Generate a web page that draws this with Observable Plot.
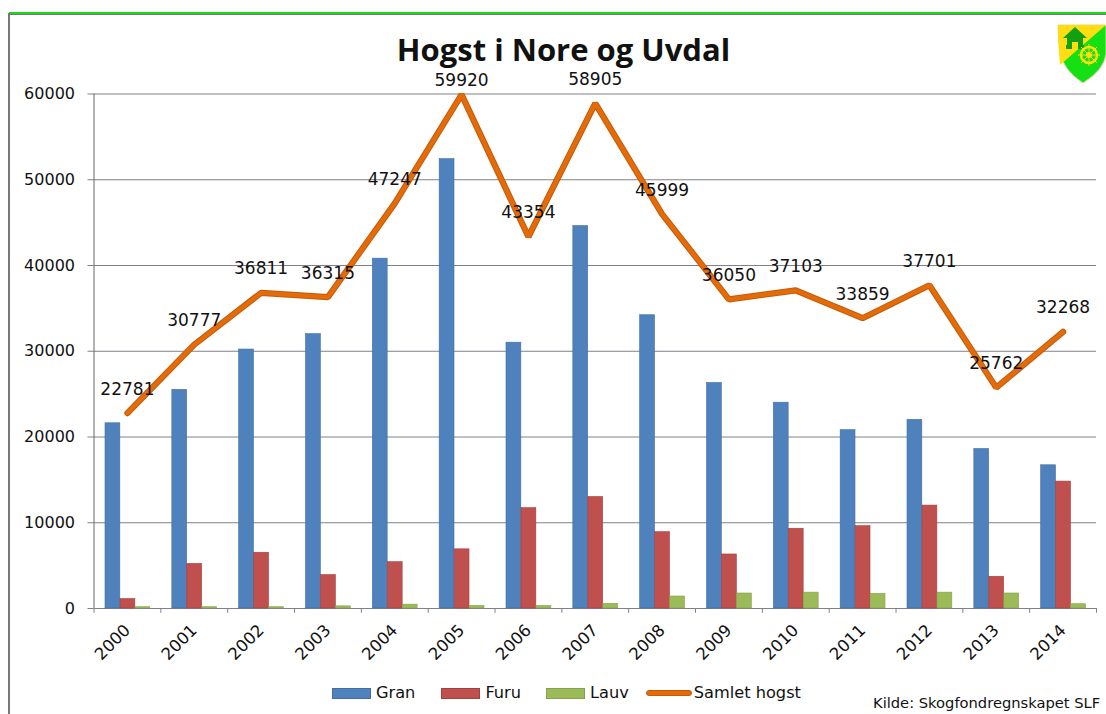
<!DOCTYPE html>
<html lang="no"><head><meta charset="utf-8">
<script src="https://cdn.jsdelivr.net/npm/d3@7"></script>
<script src="https://cdn.jsdelivr.net/npm/@observablehq/plot@0.6"></script>
<style>
html,body{margin:0;padding:0;background:#fff;overflow:hidden}
#page{position:relative;width:1106px;height:714px;font-family:"DejaVu Sans",sans-serif;color:#111}
#page svg.chart{position:absolute;left:0;top:0}
#greenline{position:absolute;left:9px;right:0;top:12px;height:1.5px;background:#12e012}
#greyline{position:absolute;left:9px;right:0;top:13.5px;height:1.5px;background:#77777c}
#leftline{position:absolute;left:8px;top:13px;bottom:0;width:2px;background:#77777c}
h1{position:absolute;left:0;top:28px;width:1127px;margin:0;text-align:center;font:bold 31px/42px "Open Sans",sans-serif;color:#111}
#legend{position:absolute;left:332px;top:683px;display:flex;align-items:center;font-size:16.2px;line-height:20px;white-space:nowrap}
#legend span{display:inline-flex;align-items:center}
#legend i{display:inline-block;width:39px;height:11px;margin-right:5px}
#source{position:absolute;left:873px;top:694px;font-size:14.7px;line-height:18px;white-space:nowrap}
#shield{position:absolute;left:1057px;top:24px}
</style></head><body>
<div id="page">
<div id="greenline"></div><div id="greyline"></div><div id="leftline"></div>
<h1>Hogst i Nore og Uvdal</h1>
<svg id="shield" width="49" height="60" viewBox="0 0 49 60">
<path d="M1 1H49V30Q47 46 26 59Q6 46 3 28Q1 14 1 1Z" fill="#14e014" stroke="#d8d8a0"/>
<path d="M1 1H49L3 41Q1 20 1 1Z" fill="#ffdd10"/>
<path d="M6 14L18 3L30 14H26V21H27V25H9V21H10V14Z" fill="#10a010"/><rect x="15" y="18" width="6" height="7" fill="#ffdd10"/>
<circle cx="32" cy="31" r="8" fill="none" stroke="#ffdd10" stroke-width="2.5"/><circle cx="32" cy="31" r="3" fill="#ffdd10"/>
<path d="M32 20V42M21 31H43M24 23L40 39M40 23L24 39" stroke="#ffdd10" stroke-width="1"/>
</svg>
<div id="legend"></div>
<div id="source">Kilde: Skogfondregnskapet SLF</div>
</div>
<script>
const years = [2000,2001,2002,2003,2004,2005,2006,2007,2008,2009,2010,2011,2012,2013,2014];
const gran  = [21600,25500,30200,32000,40800,52400,31000,44600,34200,26300,24000,20800,22000,18600,16700];
const furu  = [1100,5200,6500,3900,5400,6900,11700,13000,8900,6300,9300,9600,12000,3700,14800];
const lauv  = [150,150,150,250,450,300,300,550,1400,1750,1850,1700,1850,1750,500];
const samlet= [22781,30777,36811,36315,47247,59920,43354,58905,45999,36050,37103,33859,37701,25762,32268];
const yTicks = [0,10000,20000,30000,40000,50000,60000];
const names = ["Gran","Furu","Lauv","Samlet hogst"];
const colors = ["#4f81bd","#c0504d","#9bbb59","#e36c09"];
const edges = ["#41709f","#a33f3c","#84a24a","#c65a0b"];

const idx = years.map((_, i) => i);
const bar = (vals, c, l, r) => Plot.barY(idx, {
  x: i => years[i], y: i => vals[i], fill: colors[c], stroke: edges[c], strokeWidth: 0.6,
  insetLeft: l, insetRight: r
});
const chart = Plot.plot({
  width: 1106, height: 714,
  marginTop: 93.5, marginBottom: 106, marginLeft: 93.5, marginRight: 10,
  style: {fontFamily: '"DejaVu Sans",sans-serif', background: "transparent", color: "#111", overflow: "visible"},
  x: {type: "band", domain: years, padding: 0, round: false, label: null},
  y: {domain: [0, 60000], label: null},
  marks: [
    Plot.ruleY(yTicks, {stroke: "#80808a", strokeWidth: 1}),
    Plot.axisY({ticks: yTicks, tickSize: 6, tickPadding: 13, fontSize: 16, tickFormat: d => String(d), stroke: "#80808a", label: null, anchor: "left"}),
    Plot.ruleX([years[0]], {x: d => d, dx: -33.4, stroke: "#666"}),
    Plot.ruleX(years, {x: d => d, dx: -33.4, y1: 0, y2: -560, stroke: "#80808a"}),
    Plot.ruleX([years[years.length-1]], {x: d => d, dx: 33.4, y1: 0, y2: -560, stroke: "#80808a"}),
    Plot.axisX({tickSize: 0, tickRotate: -45, tickPadding: 19, fontSize: 16.5, tickFormat: d => String(d), label: null}),
    bar(gran, 0, 11.5, 40.5),
    bar(furu, 1, 26.5, 25.5),
    bar(lauv, 2, 41.5, 10.5),
    Plot.lineY(idx, {x: i => years[i], y: i => samlet[i], stroke: edges[3], strokeWidth: 6.2, strokeLinejoin: "miter", curve: "linear"}),
    Plot.lineY(idx, {x: i => years[i], y: i => samlet[i], stroke: colors[3], strokeWidth: 4.2, strokeLinejoin: "miter", curve: "linear"}),
    Plot.text(idx.filter(i => samlet[i] < 59000), {x: i => years[i], y: i => samlet[i], text: i => String(samlet[i]), dy: -24, fontSize: 17, fill: "#111"}),
    Plot.text(idx.filter(i => samlet[i] >= 59000), {x: i => years[i], y: i => samlet[i], text: i => String(samlet[i]), dy: -14, fontSize: 17, fill: "#111"})
  ]
});
chart.classList.add("chart");
const page = document.getElementById("page");
page.insertBefore(chart, page.firstChild);

const legend = document.getElementById("legend");
const gaps = [26, 25, 17, 0];
names.forEach((n, k) => {
  const s = document.createElement("span");
  s.style.marginRight = gaps[k] + "px";
  const sw = document.createElement("i");
  sw.style.background = colors[k];
  sw.style.boxSizing = "border-box";
  sw.style.border = "1px solid " + edges[k];
  if (k === 3) { sw.style.height = "6px"; sw.style.borderRadius = "3px"; sw.style.width = "46px"; sw.style.marginRight = "2px"; }
  s.append(sw, document.createTextNode(n));
  legend.append(s);
});
</script>
</body></html>
